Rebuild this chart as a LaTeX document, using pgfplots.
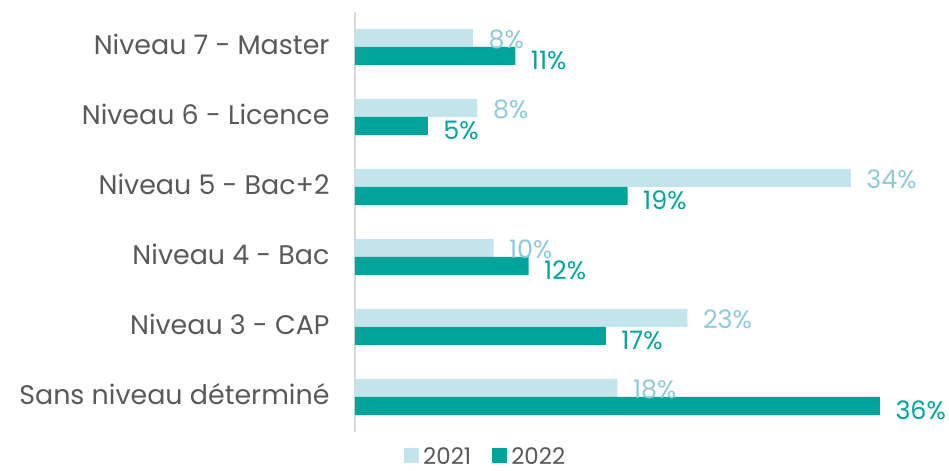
\documentclass[border=0pt]{standalone}
\usepackage{pgfplots}
\pgfplotsset{compat=1.18}
\usepackage{fontspec}
\setmainfont{Poppins}
\definecolor{c21}{HTML}{C4E4EB}
\definecolor{c21t}{HTML}{92C9D6}
\definecolor{c22}{HTML}{00A599}
\definecolor{txt}{HTML}{595959}
\definecolor{axgray}{HTML}{D9D9D9}
\begin{document}
\begin{tikzpicture}
\path[use as bounding box] (-355bp,-39bp) rectangle (594bp,432bp);
\begin{axis}[
  scale only axis, width=525bp, height=420bp,
  xmin=0, xmax=36, ymin=-0.5, ymax=5.5,
  axis x line=none, axis y line*=left,
  y axis line style={axgray, line width=1.2pt, -},
  xbar, bar width=18bp,
  ytick={0,1,2,3,4,5},
  yticklabels={Sans niveau déterminé, Niveau 3 - CAP, Niveau 4 - Bac, Niveau 5 - Bac+2, Niveau 6 - Licence, Niveau 7 - Master},
  major tick length=0pt,
  yticklabel style={font=\fontsize{27}{28}\selectfont, text=txt, xshift=-22bp, yshift=3bp},
  clip=false,
  point meta=explicit symbolic,
  nodes near coords,
  legend style={at={(0.248,-0.058)}, anchor=center, draw=none, legend columns=2,
    inner sep=0pt, outer sep=0pt, fill=none,
    font=\fontsize{23}{23}\selectfont, text=txt,
    nodes={inner sep=1bp},
    /tikz/every odd column/.append style={column sep=3bp},
    /tikz/every even column/.append style={column sep=20bp}},
  legend image code/.code={\fill[#1] (0bp,-7bp) rectangle (15bp,8bp);},
]
\addplot[fill=c21, draw=none, bar shift=9bp,
  nodes near coords style={anchor=west, xshift=12bp, yshift=-1bp, text=c21t, font=\fontsize{25.5}{28}\selectfont}]
  coordinates {(18.0,0) [18\%] (22.8,1) [23\%] (9.5,2) [10\%] (34,3) [34\%] (8.4,4) [8\%] (8.1,5) [8\%]};
\addplot[fill=c22, draw=none, bar shift=-9bp,
  nodes near coords style={anchor=west, xshift=12bp, yshift=-4bp, text=c22, font=\fontsize{25.5}{28}\selectfont}]
  coordinates {(36,0) [36\%] (17.2,1) [17\%] (11.9,2) [12\%] (18.7,3) [19\%] (5.0,4) [5\%] (11.0,5) [11\%]};
\legend{2021,2022}
\end{axis}
\end{tikzpicture}
\end{document}
